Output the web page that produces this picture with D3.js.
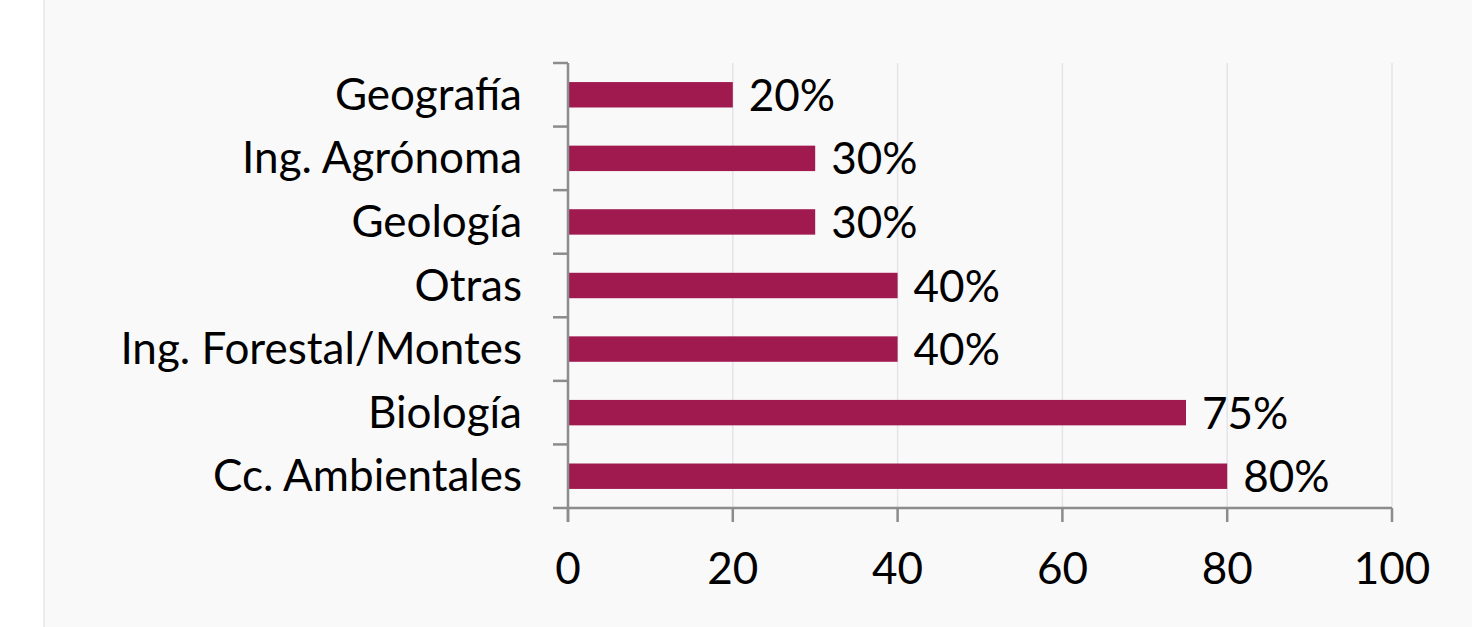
<!DOCTYPE html>
<html>
<head>
<meta charset="utf-8">
<script src="https://cdn.jsdelivr.net/npm/d3@7"></script>
<style>
  html, body { margin: 0; padding: 0; background: #fff; }
  svg { display: block; }
</style>
</head>
<body>
<div id="chart"></div>
<script>
// categories top to bottom, values in %
const categories = ["Geografía", "Ing. Agrónoma", "Geología", "Otras", "Ing. Forestal/Montes", "Biología", "Cc. Ambientales"];
const values = [20, 30, 30, 40, 40, 75, 80];
const xTicks = [0, 20, 40, 60, 80, 100];

const width = 1472;
const height = 627;
const margin = { top: 63, right: 80, bottom: 119, left: 568 };
const font = "Lato, 'Open Sans', sans-serif";
const fontSize = 44;

const svg = d3.select("#chart")
  .append("svg")
  .attr("width", width)
  .attr("height", height);

// panel background with thin left border
svg.append("rect")
  .attr("x", 43).attr("y", 0)
  .attr("width", width - 43).attr("height", height)
  .attr("fill", "#f9f9f9");
svg.append("rect")
  .attr("x", 43).attr("y", 0)
  .attr("width", 2).attr("height", height)
  .attr("fill", "#ebebf0");

const x = d3.scaleLinear()
  .domain([0, 100])
  .range([margin.left, width - margin.right]);

const y = d3.scaleBand()
  .domain(categories)
  .range([margin.top, height - margin.bottom])
  .paddingInner(0.6)
  .paddingOuter(0.3);

const yEdge = d3.scaleLinear()
  .domain([0, categories.length])
  .range([margin.top, height - margin.bottom]);

// vertical gridlines
svg.append("g")
  .selectAll("line")
  .data(xTicks.slice(1))
  .enter()
  .append("line")
  .attr("x1", d => x(d)).attr("x2", d => x(d))
  .attr("y1", margin.top).attr("y2", height - margin.bottom)
  .attr("stroke", "#e4e4ea")
  .attr("stroke-width", 1.5);

// bars
svg.append("g")
  .selectAll("rect")
  .data(categories)
  .enter()
  .append("rect")
  .attr("x", x(0))
  .attr("y", d => y(d))
  .attr("width", (d, i) => x(values[i]) - x(0))
  .attr("height", y.bandwidth())
  .attr("fill", "#a01a50");

// value labels
svg.append("g")
  .selectAll("text")
  .data(categories)
  .enter()
  .append("text")
  .attr("x", (d, i) => x(values[i]) + 16)
  .attr("y", d => y(d) + y.bandwidth() / 2 + 16)
  .attr("font-family", font)
  .attr("font-size", fontSize)
  .attr("fill", "#000")
  .text((d, i) => values[i] + "%");

// y axis line + ticks between categories
const axisColor = "#8c8c8c";
const yAxis = svg.append("g");
yAxis.append("line")
  .attr("x1", x(0)).attr("x2", x(0))
  .attr("y1", margin.top).attr("y2", height - margin.bottom + 14)
  .attr("stroke", axisColor).attr("stroke-width", 2.5);
yAxis.selectAll(".ytick")
  .data(d3.range(categories.length + 1))
  .enter()
  .append("line")
  .attr("class", "ytick")
  .attr("x1", x(0) - 15).attr("x2", x(0))
  .attr("y1", d => yEdge(d)).attr("y2", d => yEdge(d))
  .attr("stroke", axisColor).attr("stroke-width", 2.5);
yAxis.selectAll("text")
  .data(categories)
  .enter()
  .append("text")
  .attr("x", x(0) - 46)
  .attr("y", d => y(d) + y.bandwidth() / 2 + 15)
  .attr("text-anchor", "end")
  .attr("font-family", font)
  .attr("font-size", fontSize)
  .attr("fill", "#000")
  .text(d => d);

// x axis
const xAxis = svg.append("g");
xAxis.append("line")
  .attr("x1", x(0)).attr("x2", x(100))
  .attr("y1", height - margin.bottom).attr("y2", height - margin.bottom)
  .attr("stroke", axisColor).attr("stroke-width", 2.5);
xAxis.selectAll(".xtick")
  .data(xTicks)
  .enter()
  .append("line")
  .attr("class", "xtick")
  .attr("x1", d => x(d)).attr("x2", d => x(d))
  .attr("y1", height - margin.bottom).attr("y2", height - margin.bottom + 14)
  .attr("stroke", axisColor).attr("stroke-width", 2.5);
xAxis.selectAll("text")
  .data(xTicks)
  .enter()
  .append("text")
  .attr("x", d => x(d))
  .attr("y", height - margin.bottom + 76)
  .attr("text-anchor", "middle")
  .attr("font-family", font)
  .attr("font-size", fontSize)
  .attr("fill", "#000")
  .text(d => d);
</script>
</body>
</html>
